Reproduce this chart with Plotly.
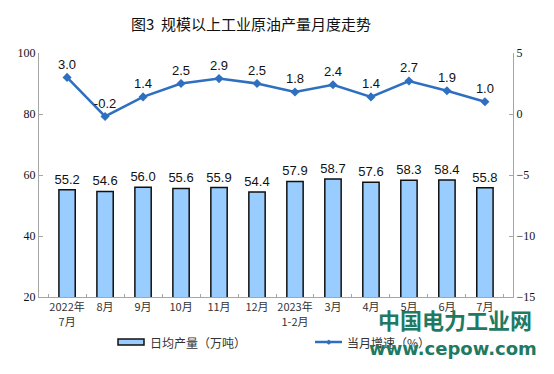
import plotly.graph_objects as go

categories = ["2022年<br>7月", "8月", "9月", "10月", "11月", "12月",
              "2023年<br>1-2月", "3月", "4月", "5月", "6月", "7月"]
daily_output = [55.2, 54.6, 56.0, 55.6, 55.9, 54.4, 57.9, 58.7, 57.6, 58.3, 58.4, 55.8]
growth_rate = [3.0, -0.2, 1.4, 2.5, 2.9, 2.5, 1.8, 2.4, 1.4, 2.7, 1.9, 1.0]
left_ticks = [20, 40, 60, 80, 100]
right_ticks = [-15, -10, -5, 0, 5]

W, H = 554, 374
L, R, T, B = 39, 513, 53, 297

def px(x):
    return (x - L) / (R - L)

def py(y):
    return (B - y) / (B - T)

CJK = "Noto Sans CJK SC"
BLUE = "#2F6FC0"
AXIS = "#A6A6A6"

fig = go.Figure()
fig.add_trace(go.Bar(
    x=categories, y=daily_output, name="日均产量（万吨）",
    marker=dict(color="#99CCFF", line=dict(color="#111111", width=1.5)),
    width=0.43,
    text=[f"{v:.1f}" for v in daily_output], textposition="outside",
    constraintext="none",
    textfont=dict(family="Liberation Sans", size=13, color="#111111"),
    cliponaxis=False, showlegend=False,
))
fig.add_trace(go.Scatter(
    x=categories, y=growth_rate, name="当月增速（%）", yaxis="y2",
    mode="lines+markers+text",
    line=dict(color=BLUE, width=2.5),
    marker=dict(symbol="diamond", size=7, color=BLUE),
    text=[f"{v:.1f}" for v in growth_rate], textposition="top center",
    textfont=dict(family="Liberation Sans", size=13, color="#111111"),
    cliponaxis=False, showlegend=False,
))

fig.update_layout(
    width=W, height=H,
    margin=dict(l=L, r=W - R, t=T, b=H - B, pad=0),
    paper_bgcolor="white", plot_bgcolor="white",
    bargap=0.57,
    xaxis=dict(
        type="category", showline=True, linecolor=AXIS, linewidth=1,
        ticks="inside", ticklen=3, tickcolor=AXIS, tickson="boundaries",
        tickangle=0, automargin=False,
        tickfont=dict(family=CJK, size=11, color="#333333"),
        showgrid=False, zeroline=False,
    ),
    yaxis=dict(
        range=[20, 100], tickvals=left_ticks, showline=True, linecolor=AXIS,
        ticks="inside", ticklen=4, tickcolor=AXIS, automargin=False,
        tickfont=dict(family="Liberation Serif", size=12, color="#111111"),
        showgrid=False, zeroline=False,
    ),
    yaxis2=dict(
        range=[-15, 5], tickvals=right_ticks, overlaying="y", side="right",
        showline=True, linecolor=AXIS, automargin=False,
        ticks="inside", ticklen=4, tickcolor=AXIS,
        tickfont=dict(family="Liberation Serif", size=12, color="#111111"),
        showgrid=False, zeroline=False,
    ),
    showlegend=False,
)

def note(text, x, y, size, color="#333333", family=CJK, xanchor="center"):
    fig.add_annotation(text=text, x=px(x), y=py(y), xref="paper", yref="paper",
                       xanchor=xanchor, yanchor="middle", showarrow=False,
                       font=dict(family=family, size=size, color=color))

# Title
note("图3  规模以上工业原油产量月度走势", 251, 24, 15, color="#111111")

# Custom legend
fig.add_shape(type="rect", xref="paper", yref="paper",
              x0=px(118), x1=px(144), y0=py(345), y1=py(339),
              fillcolor="#99CCFF", line=dict(color="#111111", width=1.5))
note("日均产量（万吨）", 148, 342, 12, xanchor="left")
fig.add_shape(type="line", xref="paper", yref="paper",
              x0=px(315), x1=px(342), y0=py(342), y1=py(342),
              line=dict(color=BLUE, width=2.5))
note("◆", 328.5, 342, 7, color=BLUE, family="DejaVu Sans")
note("当月增速（%）", 345, 342, 12, xanchor="left")

# Watermark
note("<b>中国电力工业网</b>", 455, 319, 22, color="#1E7A62")
note("<b>www.cepow.com</b>", 453, 348, 18, color="#1E7A62", family="DejaVu Sans")

fig.write_html("out.html", config={"displayModeBar": False},
               post_script="document.body.style.margin='0px';")
